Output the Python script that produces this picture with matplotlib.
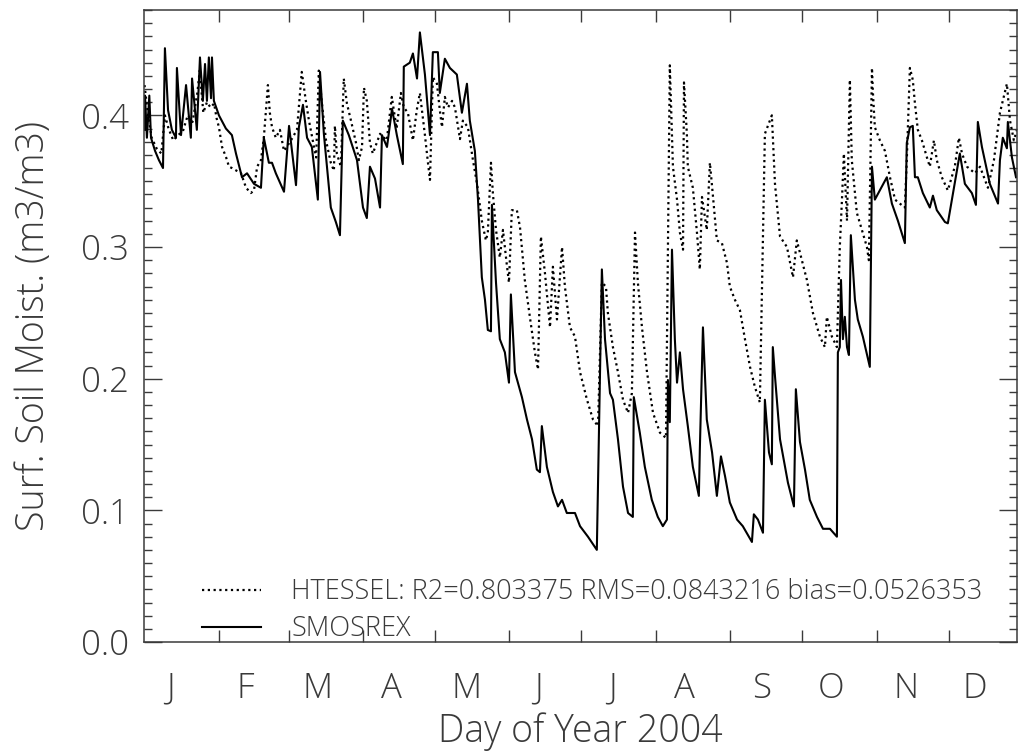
import matplotlib
matplotlib.use("Agg")
import matplotlib.pyplot as plt
from matplotlib.ticker import MultipleLocator, NullFormatter

plt.rcParams["font.family"] = ["Open Sans", "DejaVu Sans"]
plt.rcParams["font.weight"] = "light"
plt.rcParams["axes.labelweight"] = "light"

# --- data (day of year 2004, surface soil moisture m3/m3) ---
smos_day = [1, 1.2, 2, 3, 3.7, 5.4, 7, 8.7, 9.5, 10.8, 12.4, 14.1, 14.5, 16.2, 18.3, 20.3,
            20.8, 22.8, 24.1, 25.3, 26.2, 27, 27.8, 28.7, 29.1, 29.9, 32, 34.9, 37.4, 39.1,
            41.6, 43.7, 46.6, 49.5, 50.7, 52.8, 54.1, 55.7, 59.1, 61.2, 64.1, 65.3, 67,
            68.7, 70.7, 73.2, 74.1, 75.7, 78.6, 80.7, 82.4, 83.6, 86.1, 89.5, 92, 93.6,
            94.9, 97, 99.1, 99.9, 102, 104.1, 106.1, 108.6, 109, 111.5, 112.8, 114.5,
            115.7, 117.8, 119.9, 121.1, 123.2, 124, 126.1, 128.2, 131.1, 133.2, 135.3,
            136.5, 138.6, 139.9, 141.5, 142.8, 144, 145.3, 145.7, 147.4, 149, 151.1,
            152.8, 153.6, 155.3, 158.2, 160.3, 162.4, 164.4, 165.7, 166.5, 168.6, 171.1,
            173.2, 174.9, 176.9, 180.3, 182.4, 185.7, 189.4, 191.5, 192.8, 194.9, 196.1,
            198.2, 200.3, 202.4, 204.4, 204.8, 207.3, 209.4, 212.3, 214.8, 216.9, 218.6,
            219, 219.8, 220.7, 221.9, 222.8, 224, 225.3, 227.3, 229.4, 231.1, 231.9,
            232.3, 233.6, 235.2, 237.4, 239.4, 241.1, 242.8, 244.8, 247.8, 250.2, 254,
            254.8, 256.5, 258.6, 259.4, 261.1, 262.3, 262.7, 263.6, 265.7, 269, 271.5,
            272.3, 274, 276.1, 278.1, 281.1, 283.6, 286.5, 289.4, 289.8, 290.6, 291.1,
            291.9, 292.7, 293.6, 294.4, 295.2, 296.9, 298.1, 300.2, 303.1, 304, 305.2,
            310.2, 312.3, 314.8, 317.7, 318.5, 319.8, 321, 321.9, 323.1, 325.2, 328.1,
            329.4, 331, 334.4, 335.6, 340.6, 342.7, 345.6, 347.3, 348.1, 349.8, 353.1,
            356.5, 357.3, 358.5, 360.2, 360.6, 362.3, 364]
smos_val = [0.389, 0.415, 0.383, 0.415, 0.383, 0.373, 0.366, 0.360, 0.451, 0.404, 0.389,
            0.383, 0.436, 0.385, 0.423, 0.383, 0.428, 0.389, 0.444, 0.411, 0.439, 0.411,
            0.444, 0.413, 0.444, 0.411, 0.400, 0.390, 0.385, 0.371, 0.353, 0.356, 0.348,
            0.345, 0.383, 0.364, 0.364, 0.356, 0.342, 0.392, 0.347, 0.391, 0.408, 0.383,
            0.376, 0.336, 0.433, 0.386, 0.330, 0.319, 0.309, 0.396, 0.385, 0.366, 0.330,
            0.322, 0.361, 0.352, 0.330, 0.385, 0.376, 0.405, 0.385, 0.363, 0.437, 0.440,
            0.447, 0.428, 0.463, 0.431, 0.385, 0.448, 0.448, 0.417, 0.443, 0.436, 0.431,
            0.402, 0.424, 0.396, 0.373, 0.336, 0.277, 0.260, 0.237, 0.236, 0.332, 0.273,
            0.230, 0.220, 0.197, 0.264, 0.205, 0.186, 0.169, 0.154, 0.131, 0.129, 0.164,
            0.133, 0.114, 0.103, 0.108, 0.098, 0.098, 0.088, 0.080, 0.070, 0.283, 0.230,
            0.189, 0.184, 0.154, 0.118, 0.098, 0.095, 0.186, 0.159, 0.133, 0.108, 0.095,
            0.088, 0.093, 0.199, 0.167, 0.298, 0.230, 0.197, 0.220, 0.192, 0.164, 0.133,
            0.118, 0.111, 0.146, 0.239, 0.169, 0.144, 0.111, 0.141, 0.126, 0.106, 0.093,
            0.088, 0.076, 0.097, 0.093, 0.083, 0.184, 0.144, 0.135, 0.224, 0.202, 0.154,
            0.121, 0.103, 0.192, 0.152, 0.131, 0.108, 0.095, 0.086, 0.086, 0.080, 0.220,
            0.224, 0.275, 0.230, 0.247, 0.224, 0.218, 0.309, 0.260, 0.245, 0.232, 0.209,
            0.361, 0.336, 0.353, 0.333, 0.320, 0.303, 0.379, 0.391, 0.392, 0.353, 0.353,
            0.341, 0.330, 0.339, 0.328, 0.319, 0.318, 0.371, 0.348, 0.341, 0.332, 0.395,
            0.376, 0.348, 0.333, 0.366, 0.383, 0.375, 0.395, 0.368, 0.353]

htes_day = [1, 2.5, 4, 6, 8, 9.5, 11, 13, 15, 17, 19, 21, 23, 24, 25.5, 27, 28.5, 30, 31,
            32, 33.3, 35, 36.2, 37.4, 41.2, 43.3, 45.3, 46.6, 47.9, 49.5, 50.7, 52.4,
            53.2, 54.1, 55.7, 57.4, 59.1, 62, 64.5, 66.5, 68.2, 69.5, 71.6, 72.5, 73.6,
            74.9, 76.6, 78.6, 79.9, 80.3, 81.1, 82.8, 84, 85.3, 87, 89.1, 90.3, 91.6,
            92.4, 93.6, 94.9, 96.1, 99.1, 101.9, 104, 106, 107.8, 109, 110.7, 112.8,
            114.4, 115.7, 117.8, 119, 119.9, 121.1, 122.8, 124, 124.9, 126.1, 127.4,
            129.1, 130.3, 132.4, 133.6, 135.7, 137.8, 139.5, 141.5, 143.2, 144, 145.3,
            146.1, 147.4, 149, 150.3, 152, 152.8, 154, 156.1, 157.4, 159.4, 161.5,
            163.6, 164.9, 166.1, 167.8, 169.9, 171.1, 172.8, 174.9, 176.1, 178.2, 180.3,
            182.4, 185.3, 187.8, 189.9, 191.5, 193.2, 194, 196.1, 198.2, 200.3, 202.4,
            204, 205.3, 206.5, 208.2, 210.3, 212.8, 215.7, 218.2, 219.8, 221.1, 222.8,
            224, 225.3, 225.7, 226.9, 227.3, 229.4, 231.1, 232.3, 233.2, 235.2, 236.5,
            237.8, 239.4, 241.5, 243.6, 244.8, 246.9, 249, 251.1, 253.2, 255.2, 257.3,
            259.4, 262.3, 263.6, 265.7, 268.6, 271.1, 272.7, 274.8, 276.9, 279.4, 282.3,
            284.4, 285.2, 287.3, 289.4, 290.6, 291.5, 292.3, 293.6, 294.8, 295.6, 297.7,
            299.8, 301.9, 302.7, 304, 304.4, 305.2, 307.3, 309.4, 311.5, 313.6, 315.6,
            317.7, 318.5, 319.8, 321, 321.9, 323.1, 324.8, 326.9, 328.1, 329.8, 331,
            333.1, 335.6, 338.5, 340.2, 341.5, 343.6, 346.9, 349, 352.3, 354.8, 357.3,
            360.2, 361.5, 363.1, 364.4]
htes_val = [0.423, 0.400, 0.383, 0.375, 0.371, 0.400, 0.390, 0.381, 0.385, 0.388, 0.400,
            0.395, 0.417, 0.434, 0.402, 0.410, 0.406, 0.409, 0.398, 0.391, 0.376, 0.368,
            0.361, 0.360, 0.356, 0.345, 0.341, 0.343, 0.361, 0.366, 0.383, 0.423, 0.402,
            0.391, 0.383, 0.389, 0.373, 0.381, 0.389, 0.433, 0.411, 0.396, 0.376, 0.368,
            0.434, 0.409, 0.381, 0.364, 0.358, 0.392, 0.371, 0.361, 0.428, 0.409, 0.396,
            0.379, 0.366, 0.376, 0.421, 0.411, 0.379, 0.371, 0.386, 0.381, 0.414, 0.390,
            0.417, 0.406, 0.402, 0.381, 0.404, 0.417, 0.385, 0.365, 0.351, 0.429, 0.424,
            0.404, 0.391, 0.414, 0.406, 0.411, 0.406, 0.382, 0.396, 0.391, 0.366, 0.348,
            0.320, 0.305, 0.311, 0.364, 0.341, 0.313, 0.292, 0.313, 0.285, 0.273, 0.328,
            0.328, 0.315, 0.275, 0.247, 0.220, 0.207, 0.308, 0.280, 0.239, 0.285, 0.245,
            0.300, 0.270, 0.239, 0.232, 0.205, 0.184, 0.169, 0.164, 0.273, 0.270, 0.250,
            0.224, 0.205, 0.184, 0.174, 0.189, 0.311, 0.273, 0.239, 0.205, 0.174, 0.159,
            0.155, 0.438, 0.361, 0.336, 0.311, 0.298, 0.425, 0.386, 0.361, 0.345, 0.311,
            0.283, 0.338, 0.313, 0.364, 0.338, 0.305, 0.303, 0.288, 0.270, 0.260, 0.252,
            0.230, 0.209, 0.194, 0.182, 0.386, 0.400, 0.348, 0.308, 0.300, 0.277, 0.305,
            0.290, 0.275, 0.250, 0.232, 0.224, 0.247, 0.232, 0.224, 0.300, 0.336, 0.371,
            0.320, 0.427, 0.366, 0.326, 0.313, 0.300, 0.290, 0.436, 0.417, 0.391, 0.381,
            0.373, 0.353, 0.336, 0.333, 0.330, 0.366, 0.436, 0.427, 0.409, 0.389, 0.381,
            0.368, 0.361, 0.381, 0.366, 0.353, 0.343, 0.361, 0.383, 0.371, 0.361, 0.356,
            0.361, 0.345, 0.366, 0.402, 0.424, 0.396, 0.381, 0.389]

month_start = [32, 61, 92, 122, 153, 183, 214, 245, 275, 306, 336]
month_label_day = [12, 43, 73, 104, 135, 165, 196, 226, 258, 287, 318, 347]
month_labels = ["J", "F", "M", "A", "M", "J", "J", "A", "S", "O", "N", "D"]

htes_label = "HTESSEL: R2=0.803375 RMS=0.0843216 bias=0.0526353"
smos_label = "SMOSREX"

TXT = "#3a3a3a"

fig = plt.figure(figsize=(10.31, 7.54), dpi=100)
ax = fig.add_axes([0.1397, 0.1485, 0.8467, 0.8382])

ax.plot(htes_day, htes_val, color="black", lw=1.6, ls=(0, (1, 1.6)), label=htes_label)
ax.plot(smos_day, smos_val, color="black", lw=1.5, label=smos_label)

ax.set_xlim(0.8, 364.4)
ax.set_ylim(0.0, 0.48)

# x: month boundaries as ticks, month letters in between
ax.set_xticks(month_start)
ax.xaxis.set_major_formatter(NullFormatter())
ax.set_xticks(month_label_day, minor=True)
ax.set_xticklabels(month_labels, minor=True)
ax.tick_params(axis="x", which="major", direction="in", length=8.5, width=1,
               top=True, bottom=True, color=TXT)
ax.tick_params(axis="x", which="minor", length=0, pad=21, labelsize=25, labelcolor=TXT)

# y: 0.1 majors, 0.01 minors, on both sides
ax.yaxis.set_major_locator(MultipleLocator(0.1))
ax.yaxis.set_minor_locator(MultipleLocator(0.01))
ax.yaxis.set_major_formatter(plt.FuncFormatter(lambda v, p: f"{v:.1f}"))
ax.tick_params(axis="y", which="major", direction="in", length=13, width=1,
               left=True, right=True, pad=11, labelsize=25, labelcolor=TXT, color=TXT)
ax.tick_params(axis="y", which="minor", direction="in", length=5.5, width=1,
               left=True, right=True, color=TXT)

for s in ax.spines.values():
    s.set_color(TXT)
    s.set_linewidth(1.1)

ax.set_xlabel("Day of Year 2004", fontsize=27, color=TXT, labelpad=5)
ax.set_ylabel("Surf. Soil Moist. (m3/m3)", fontsize=27, color=TXT, labelpad=20)

leg = ax.legend(loc="lower left", bbox_to_anchor=(0.066, -0.002), frameon=False,
                fontsize=19.5, handlelength=2.2, handletextpad=1.1, labelspacing=0.33,
                borderpad=0.0, borderaxespad=0.0)
for t in leg.get_texts():
    t.set_color(TXT)

fig.savefig("out.png", dpi=100, facecolor="white")
